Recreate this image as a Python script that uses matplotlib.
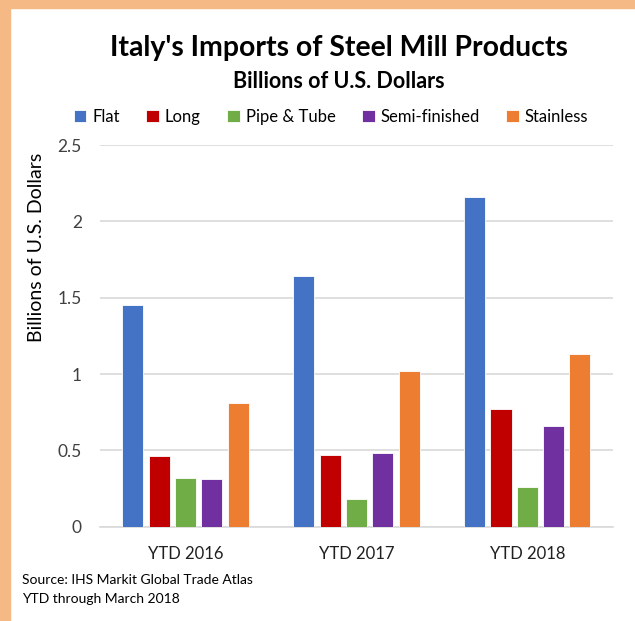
import numpy as np
import matplotlib
matplotlib.use("Agg")
import matplotlib.pyplot as plt
from matplotlib.patches import Rectangle

plt.rcParams["font.family"] = ["Lato", "DejaVu Sans"]

# -------------------------
# Data
# -------------------------
categories = ["YTD 2016", "YTD 2017", "YTD 2018"]
series_names = ["Flat", "Long", "Pipe & Tube", "Semi-finished", "Stainless"]
flat = [1.45, 1.64, 2.16]
long_ = [0.46, 0.47, 0.77]
pipe_tube = [0.32, 0.18, 0.26]
semi_finished = [0.31, 0.48, 0.66]
stainless = [0.81, 1.02, 1.13]
y_ticks = [0, 0.5, 1, 1.5, 2, 2.5]
y_tick_labels = ["0", "0.5", "1", "1.5", "2", "2.5"]

colors = ["#4472C4", "#C00000", "#70AD47", "#7030A0", "#ED7D31"]
series = [flat, long_, pipe_tube, semi_finished, stainless]

# -------------------------
# Figure
# -------------------------
fig = plt.figure(figsize=(6.35, 6.21), dpi=100)
ax = fig.add_axes([0.1575, 0.1519, 0.8075, 0.6146])

# peach frame on top and left
fig.patches.append(Rectangle((0, 1 - 8 / 621), 1, 8 / 621, transform=fig.transFigure,
                             color="#F4B984", zorder=0))
fig.patches.append(Rectangle((0, 0), 10 / 635, 1, transform=fig.transFigure,
                             color="#F4B984", zorder=0))

x = np.arange(len(categories))
pitch = 0.154
width = 0.123
for i, (name, vals) in enumerate(zip(series_names, series)):
    offs = (i - 2) * pitch
    ax.bar(x + offs, vals, width, color=colors[i], label=name,
           edgecolor="white", linewidth=0.6, zorder=3)

ax.set_xlim(-0.5, 2.5)
ax.set_ylim(0, 2.5)
ax.set_yticks(y_ticks)
ax.set_yticklabels(y_tick_labels, fontsize=12.5, color="#404040")
ax.set_xticks(x)
ax.set_xticklabels(categories, fontsize=12, color="#202020")
ax.tick_params(axis="y", length=0, pad=13)
ax.tick_params(axis="x", length=0, pad=14)
ax.grid(axis="y", color="#D9D9D9", linewidth=1.2, zorder=0)
for s in ["top", "right", "left"]:
    ax.spines[s].set_visible(False)
ax.spines["bottom"].set_color("#D9D9D9")
ax.spines["bottom"].set_linewidth(1.2)

ax.set_ylabel("Billions of U.S. Dollars", fontsize=14, color="#000000")
ax.yaxis.set_label_coords(45 / 635, 1 - 247 / 621, transform=fig.transFigure)

fig.text(339 / 635, 1 - 48 / 621, "Italy's Imports of Steel Mill Products",
         ha="center", va="center", fontsize=20.4, fontweight="bold")
fig.text(339 / 635, 1 - 81 / 621, "Billions of U.S. Dollars",
         ha="center", va="center", fontsize=15.5, fontweight="bold")

fig.legend(loc="center", bbox_to_anchor=(331 / 635, 1 - 117 / 621), ncol=5,
           frameon=False, fontsize=12, handlelength=0.75, handleheight=0.75,
           handletextpad=0.35, columnspacing=1.6)

fig.text(22 / 635, 1 - 580 / 621, "Source: IHS Markit Global Trade Atlas",
         ha="left", va="center", fontsize=10)
fig.text(22 / 635, 1 - 599 / 621, "YTD through March 2018",
         ha="left", va="center", fontsize=10)

fig.savefig("out.png", dpi=100)
